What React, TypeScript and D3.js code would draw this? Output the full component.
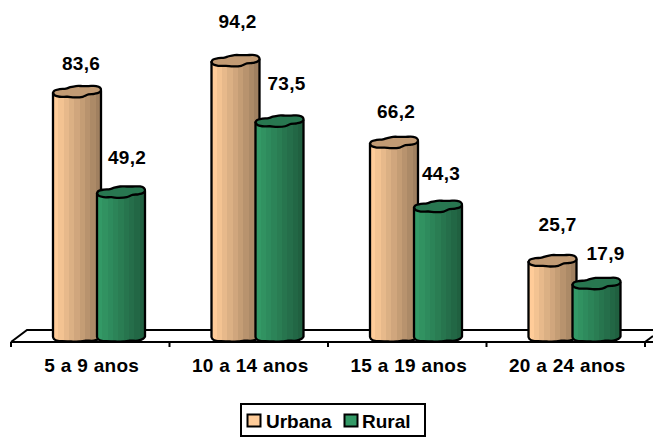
import React from "react";
import * as d3 from "d3";

const categories = ["5 a 9 anos", "10 a 14 anos", "15 a 19 anos", "20 a 24 anos"];
const urbana = [83.6, 94.2, 66.2, 25.7];
const rural = [49.2, 73.5, 44.3, 17.9];
const seriesNames = ["Urbana", "Rural"];
const seriesColors = ["#FFCC99", "#339966"];
const seriesValues = [urbana, rural];
// vertical gap between the value label baseline and the cap centre
const labelGaps = [[22, 33, 25, 30], [28, 31, 27, 24]];
// horizontal nudge of the value labels from the bar centre
const labelShifts = [[4, 2, 2, 5], [2, 3, -1, 5]];

const W = 653, H = 437;
const x0 = d3.scaleBand<string>().domain(categories).range([11, 645]);
const x1 = d3.scaleBand<string>().domain(seriesNames).range([42, 138]);
const y = d3.scaleLinear().domain([0, 100]).range([336, 44]);
const font = "'Liberation Sans', Arial, sans-serif";
const fmt = (v: number) => v.toFixed(1).replace(".", ",");

const capUpper: [number, number][] = [[0, .15], [.03, -.2], [.14, -.42], [.27, -.5], [.36, -.72], [.48, -.9], [.62, -.9], [.74, -.9], [.9, -.9], [.98, -.65], [1, -.25]];
const capLower: [number, number][] = [[.96, .1], [.86, .3], [.74, .38], [.62, .75], [.45, .85], [.3, .75], [.14, .75], [.04, .55], [0, .15]];
const bottomEdge: [number, number][] = [[0, .15], [.02, .55], [.1, .9], [.2, .95], [.38, 1], [.55, 1], [.68, .85], [.85, .85], [.96, .5], [1, .1]];

const curved = d3.line<[number, number]>().curve(d3.curveLinear);
const smooth = d3.line<[number, number]>().curve(d3.curveCatmullRom.alpha(0.5));

function gradient(id: string, c: string) {
  const n = 9;
  const dark = d3.rgb(c).darker(1.3);
  const mix = d3.interpolateRgb(c, dark.formatRgb());
  const stops = d3.range(n).flatMap((i) => [
    <stop key={i + "a"} offset={i / n} stopColor={mix(i / (n - 1))} />,
    <stop key={i + "b"} offset={(i + 1) / n} stopColor={mix(i / (n - 1))} />,
  ]);
  return <linearGradient id={id} x1="0" x2="1" y1="0" y2="0">{stops}</linearGradient>;
}

function Bar({ cx, w, v, color, id }: { cx: number; w: number; v: number; color: string; id: string }) {
  const top = y(v), base = y(0), ry = 6.5, by = 5.5;
  const tx = (p: [number, number], yc: number, r: number): [number, number] => [cx + p[0] * w, yc + p[1] * r];
  const bottom = smooth(bottomEdge.map((p) => tx(p, base, by)))!;
  const body = `M${cx},${top + 1}L${cx},${base + 1}` + bottom.replace(/^M[^CLQ]*/, "") + `L${cx + w},${top - 1}Z`;
  const cap = smooth([...capUpper, ...capLower].map((p) => tx(p, top, ry))) + "Z";
  return (
    <g stroke="#000" strokeWidth={2.3} strokeLinejoin="round">
      <path d={body} fill={`url(#${id})`} />
      <path d={cap} fill={d3.interpolateRgb(color, "#000")(id === "gU" ? 0.24 : 0.22)} />
    </g>
  );
}

export default function App() {
  const w = x1.bandwidth();
  const tickXs = [...categories.map((c) => x0(c)!), 645];
  const floor = y(0);
  return (
    <svg width={W} height={H} style={{ position: "absolute", left: 0, top: 0, background: "#fff" }} fontFamily={font}>
      <defs>{gradient("gU", seriesColors[0])}{gradient("gR", seriesColors[1])}</defs>
      <path d={`M11,${floor + 6}L27,${floor - 6}H653`} fill="none" stroke="#000" strokeWidth={2} />
      <path d={`M11,${floor + 6}H653`} fill="none" stroke="#000" strokeWidth={2} />
      <path d={`M645,${floor + 6}L653,${floor}`} fill="none" stroke="#000" strokeWidth={2} />
      {tickXs.map((t) => <line key={t} x1={t} x2={t} y1={floor + 6} y2={floor + 11} stroke="#000" strokeWidth={2} />)}
      {categories.map((c, i) => (
        <g key={c}>
          {seriesNames.map((s, k) => (
            <Bar key={s} cx={x0(c)! + x1(s)! + (k === 1 ? -4 : 0)} w={w} v={seriesValues[k][i]} color={seriesColors[k]} id={k === 0 ? "gU" : "gR"} />
          ))}
        </g>
      ))}
      {categories.map((c, i) => seriesNames.map((s, k) => (
        <text key={c + s} x={x0(c)! + x1(s)! + w / 2 + labelShifts[k][i]} y={y(seriesValues[k][i]) - labelGaps[k][i]} textAnchor="middle" fontSize={19} letterSpacing={0.3} fontWeight={700} fill="#000">
          {fmt(seriesValues[k][i])}
        </text>
      )))}
      {categories.map((c) => (
        <text key={c} x={x0(c)! + x0.bandwidth() / 2 + 1.5} y={372} textAnchor="middle" fontSize={19} letterSpacing={0.3} fontWeight={700} fill="#000">{c}</text>
      ))}
      <rect x={241} y={404} width={184} height={32} fill="#fff" stroke="#000" strokeWidth={2} />
      <rect x={247.5} y={414.5} width={13} height={12} fill={seriesColors[0]} stroke="#000" strokeWidth={2} />
      <text x={266} y={428} fontSize={19} fontWeight={700}>{seriesNames[0]}</text>
      <rect x={344.5} y={414.5} width={13} height={12} fill={seriesColors[1]} stroke="#000" strokeWidth={2} />
      <text x={362} y={428} fontSize={19} fontWeight={700}>{seriesNames[1]}</text>
    </svg>
  );
}
